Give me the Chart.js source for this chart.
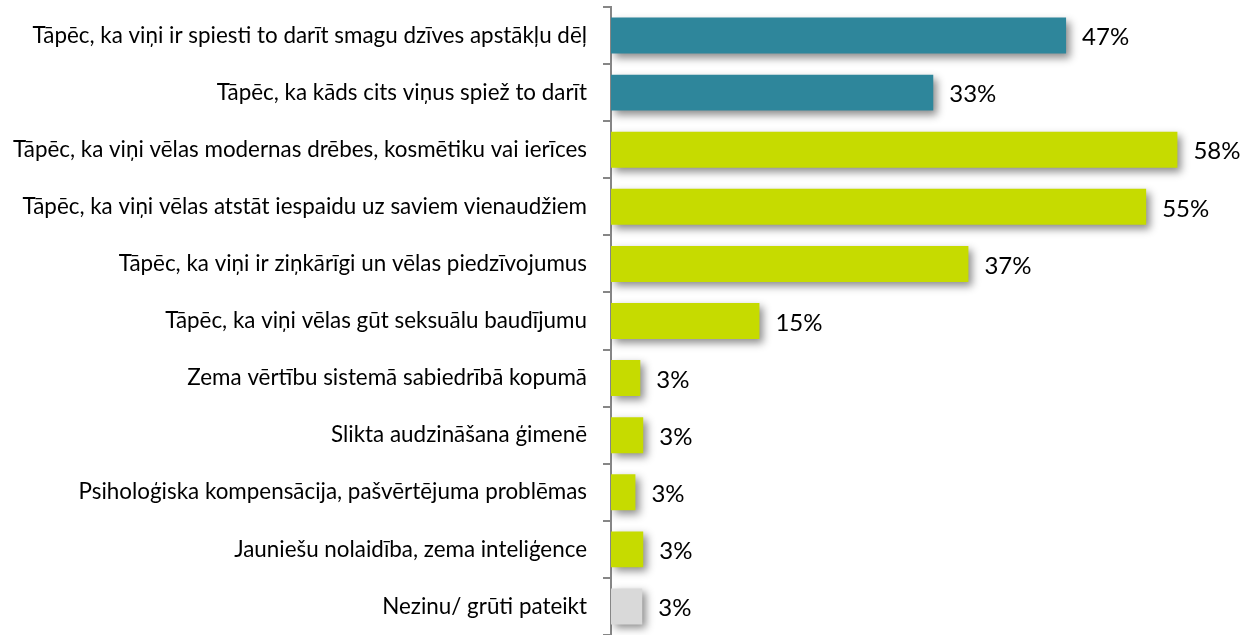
<!DOCTYPE html>
<html><head><meta charset="utf-8">
<script src="https://cdn.jsdelivr.net/npm/chart.js@4"></script>
<style>html,body{margin:0;padding:0;background:#fff}#wrap{width:1241px;height:635px}</style>
</head><body><div id="wrap"><canvas id="c"></canvas></div>
<script>
const categories = [
  "Tāpēc, ka viņi ir spiesti to darīt smagu dzīves apstākļu dēļ",
  "Tāpēc, ka kāds cits viņus spiež to darīt",
  "Tāpēc, ka viņi vēlas modernas drēbes, kosmētiku vai ierīces",
  "Tāpēc, ka viņi vēlas atstāt iespaidu uz saviem vienaudžiem",
  "Tāpēc, ka viņi ir ziņkārīgi un vēlas piedzīvojumus",
  "Tāpēc, ka viņi vēlas gūt seksuālu baudījumu",
  "Zema vērtību sistemā sabiedrībā kopumā",
  "Slikta audzināšana ģimenē",
  "Psiholoģiska kompensācija, pašvērtējuma problēmas",
  "Jauniešu nolaidība, zema inteliģence",
  "Nezinu/ grūti pateikt"
];
const values = [46.6, 33.0, 58.0, 54.8, 36.6, 15.2, 3.0, 3.3, 2.5, 3.3, 3.2];
const valueLabels = ["47%", "33%", "58%", "55%", "37%", "15%", "3%", "3%", "3%", "3%", "3%"];
const groups = ["teal", "teal", "lime", "lime", "lime", "lime", "lime", "lime", "lime", "lime", "gray"];
const groupColors = { teal: "#2E869B", lime: "#C6DB00", gray: "#D9D9D9" };

const shadowPlugin = {
  id: 'shadow',
  beforeDatasetsDraw(chart) {
    const ctx = chart.ctx;
    ctx.save();
    ctx.shadowColor = 'rgba(0,0,0,0.45)';
    ctx.shadowBlur = 8;
    ctx.shadowOffsetX = 4;
    ctx.shadowOffsetY = 4;
  },
  afterDatasetsDraw(chart) {
    const ctx = chart.ctx;
    ctx.restore();
    const meta = chart.getDatasetMeta(0);
    ctx.save();
    ctx.font = '24px Lato';
    ctx.fillStyle = '#000';
    ctx.textAlign = 'left';
    ctx.textBaseline = 'middle';
    meta.data.forEach((bar, i) => {
      ctx.fillText(valueLabels[i], bar.x + 16, bar.y + 2);
    });
    ctx.restore();
  }
};

new Chart(document.getElementById('c'), {
  type: 'bar',
  data: {
    labels: categories,
    datasets: [{
      data: values,
      backgroundColor: groups.map(g => groupColors[g]),
      barPercentage: 0.63,
      categoryPercentage: 1
    }]
  },
  options: {
    indexAxis: 'y',
    responsive: true,
    maintainAspectRatio: false,
    animation: false,
    layout: { padding: { top: 7, bottom: -3, left: 0, right: 5 } },
    plugins: { legend: { display: false }, tooltip: { enabled: false } },
    scales: {
      x: { display: false, min: 0, max: 64 },
      y: {
        afterFit(scale) { scale.width = 611; scale.paddingTop = 0; scale.paddingBottom = 0; },
        border: { color: '#868686', width: 2 },
        grid: { drawOnChartArea: false, offset: true, tickLength: 8, color: '#868686', lineWidth: 2 },
        ticks: { color: '#000', font: { family: 'Lato', size: 22.4 }, padding: 16, autoSkip: false }
      }
    }
  },
  plugins: [shadowPlugin]
});
</script></body></html>
